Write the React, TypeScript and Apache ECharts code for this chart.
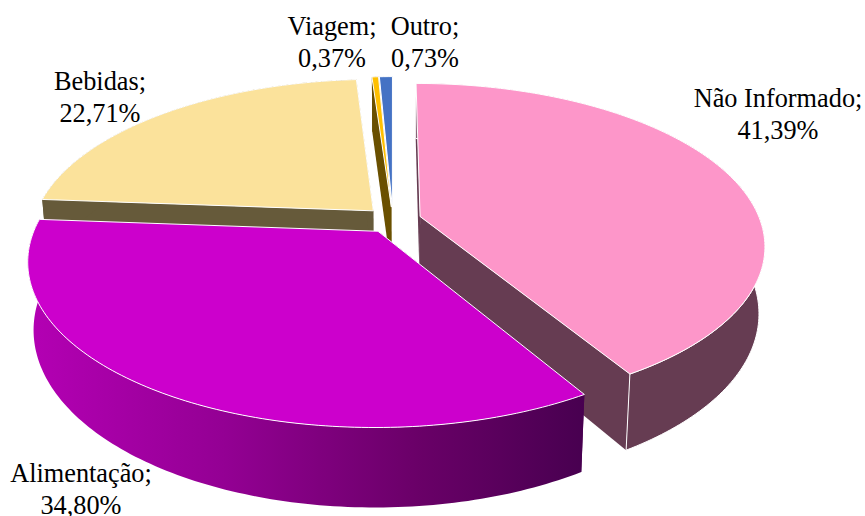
import React, { useEffect, useRef } from "react";
import * as echarts from "echarts";

const categories = ["Não Informado", "Alimentação", "Bebidas", "Viagem", "Outro"];
const shares = [41.39, 34.8, 22.71, 0.37, 0.73];
const shareLabels = ["41,39%", "34,80%", "22,71%", "0,37%", "0,73%"];
const topColors = ["#FD96C9", "#CC00CC", "#FBE29B", "#FFC000", "#4472C4"];
const wallColors = ["#663C52", "#990099", "#665A3A", "#6A5000", ""];
const drawOrder = [0, 4, 3, 2, 1];

const W = 865;
const H = 516;
const CX = 393;
const CY = 220;
const RX = 340;
const RY = 157.5;
const PERSP = 0.175;
const DEPTH = 65;
const INSET = 0.984;
const EXPLODE = 0.083;
const labelCenters: number[][] = [
  [778, 114],
  [81, 489],
  [100, 97],
  [332, 42],
  [425, 42],
];

const rad = (deg: number) => (deg * Math.PI) / 180;

function project(X: number, Y: number, low: boolean): number[] {
  const s = 1 / (1 - PERSP * Y);
  const x = CX + RX * X * s;
  const y = CY + RY * Y * s;
  if (!low) return [x, y];
  return [CX + (x - CX) * INSET, y + DEPTH * s];
}

function renderSlice(_params: any, api: any) {
  const i = api.value(0) as number;
  const total = shares.reduce((a, b) => a + b, 0);
  let start = 0;
  for (let k = 0; k < i; k++) start += (shares[k] / total) * 360;
  const sweep = (shares[i] / total) * 360;
  const mid = rad(start + sweep / 2);
  const ox = Math.sin(mid) * EXPLODE;
  const oy = -Math.cos(mid) * EXPLODE;
  const rimT: number[][] = [];
  const rimB: number[][] = [];
  const steps = Math.max(2, Math.ceil(sweep));
  for (let k = 0; k <= steps; k++) {
    const a = rad(start + (sweep * k) / steps);
    rimT.push(project(ox + Math.sin(a), oy - Math.cos(a), false));
    rimB.push(project(ox + Math.sin(a), oy - Math.cos(a), true));
  }
  const apexT = project(ox, oy, false);
  const apexB = project(ox, oy, true);
  const edge = { stroke: "#FFFFFF", lineWidth: 1, lineJoin: "round" };
  const children: any[] = [];
  if (wallColors[i]) {
    const wallFill =
      i === 1
        ? new echarts.graphic.LinearGradient(
            27,
            0,
            584,
            0,
            [
              { offset: 0, color: "#B400B4" },
              { offset: 0.35, color: "#940094" },
              { offset: 0.7, color: "#6A0068" },
              { offset: 1, color: "#480050" },
            ],
            true
          )
        : wallColors[i];
    const cutFill = i === 1 ? "#480050" : wallColors[i];
    children.push({
      type: "polygon",
      shape: { points: [apexT, rimT[0], rimB[0], apexB] },
      style: { fill: cutFill },
    });
    const last = rimT.length - 1;
    children.push({
      type: "polygon",
      shape: { points: [apexT, rimT[last], rimB[last], apexB] },
      style: { fill: cutFill },
    });
    children.push({
      type: "polygon",
      shape: { points: rimT.concat(rimB.slice().reverse()) },
      style: { fill: wallFill, stroke: i === 0 ? "#FFFFFF" : "none", lineWidth: 1 },
    });
  }
  children.push({
    type: "polygon",
    shape: { points: [apexT].concat(rimT) },
    style: { fill: topColors[i], ...edge },
  });
  children.push({
    type: "text",
    style: {
      text: `${categories[i]};\n${shareLabels[i]}`,
      x: labelCenters[i][0],
      y: labelCenters[i][1],
      align: "center",
      verticalAlign: "middle",
      fill: "#000000",
      fontSize: 26.3,
      fontFamily: "Liberation Serif",
      lineHeight: 32,
    },
  });
  return { type: "group", children };
}

export default function App() {
  const ref = useRef<HTMLDivElement>(null);
  useEffect(() => {
    const chart = echarts.init(ref.current!, undefined, { renderer: "svg" });
    chart.setOption({
      animation: false,
      backgroundColor: "#FFFFFF",
      series: [
        {
          type: "custom",
          coordinateSystem: "none",
          renderItem: renderSlice,
          data: drawOrder.map((i) => ({ name: categories[i], value: [i, shares[i]] })),
          clip: false,
        },
      ],
    });
    return () => chart.dispose();
  }, []);
  return <div ref={ref} style={{ position: "fixed", left: 0, top: 0, width: W, height: H }} />;
}
